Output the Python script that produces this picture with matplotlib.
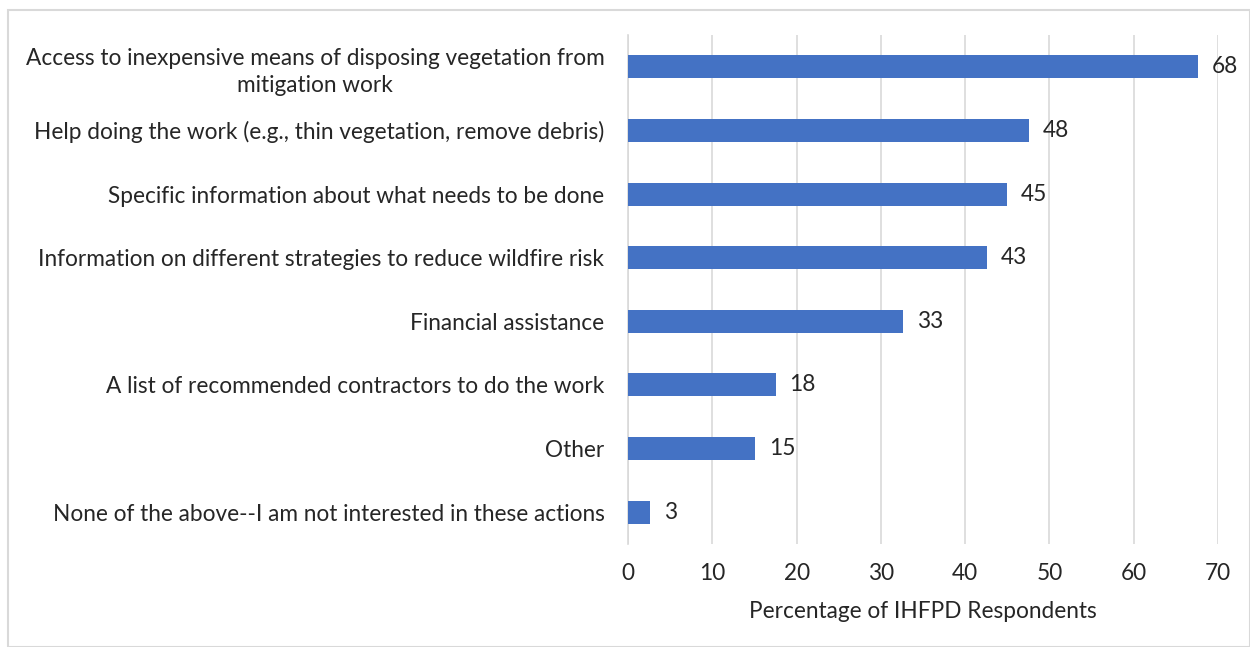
import matplotlib
matplotlib.use("Agg")
import matplotlib.pyplot as plt
from matplotlib.patches import Rectangle

categories = [
    "Access to inexpensive means of disposing vegetation from\nmitigation work",
    "Help doing the work (e.g., thin vegetation, remove debris)",
    "Specific information about what needs to be done",
    "Information on different strategies to reduce wildfire risk",
    "Financial assistance",
    "A list of recommended contractors to do the work",
    "Other",
    "None of the above--I am not interested in these actions",
]
values = [67.6, 47.6, 45.0, 42.6, 32.6, 17.5, 15.1, 2.6]
xticks = [0, 10, 20, 30, 40, 50, 60, 70]

plt.rcParams['font.family'] = ['Lato', 'DejaVu Sans']
fig = plt.figure(figsize=(12.5, 6.47), dpi=100)
fig.patches.append(Rectangle((8/1250, 0), 1 - 8/1250, 1 - 10/647, transform=fig.transFigure,
                             fill=False, edgecolor='#d9d9d9', linewidth=1.5))
ax = fig.add_axes([628/1250, 1 - 544/647, (1218 - 628)/1250, (544 - 35)/647])

FS = 16.3
y = list(range(len(categories)))
bars = ax.barh(y, values, height=0.36, color='#4472C4', zorder=3)
ax.set_ylim(len(categories) - 0.5, -0.5)
ax.set_xlim(0, 70)
ax.set_yticks(y)
ax.set_yticklabels(categories, fontsize=FS, color='#262626', multialignment='center',
                   linespacing=1.35)
ax.set_xticks(xticks)
ax.set_xticklabels([str(t) for t in xticks], fontsize=FS, color='#262626')
ax.tick_params(axis='y', length=0, pad=17)
ax.tick_params(axis='x', length=0, pad=14)
ax.grid(axis='x', color='#d9d9d9', linewidth=1.2, zorder=0)
for s in ['top', 'right', 'bottom']:
    ax.spines[s].set_visible(False)
ax.spines['left'].set_color('#d9d9d9')
ax.spines['left'].set_linewidth(1.2)
ax.bar_label(bars, labels=[f"{round(v):d}" for v in values], padding=10, fontsize=FS,
             color='#262626', clip_on=False)
ax.set_xlabel("Percentage of IHFPD Respondents", fontsize=FS, color='#262626', labelpad=12)

fig.savefig("out.png", dpi=100)
